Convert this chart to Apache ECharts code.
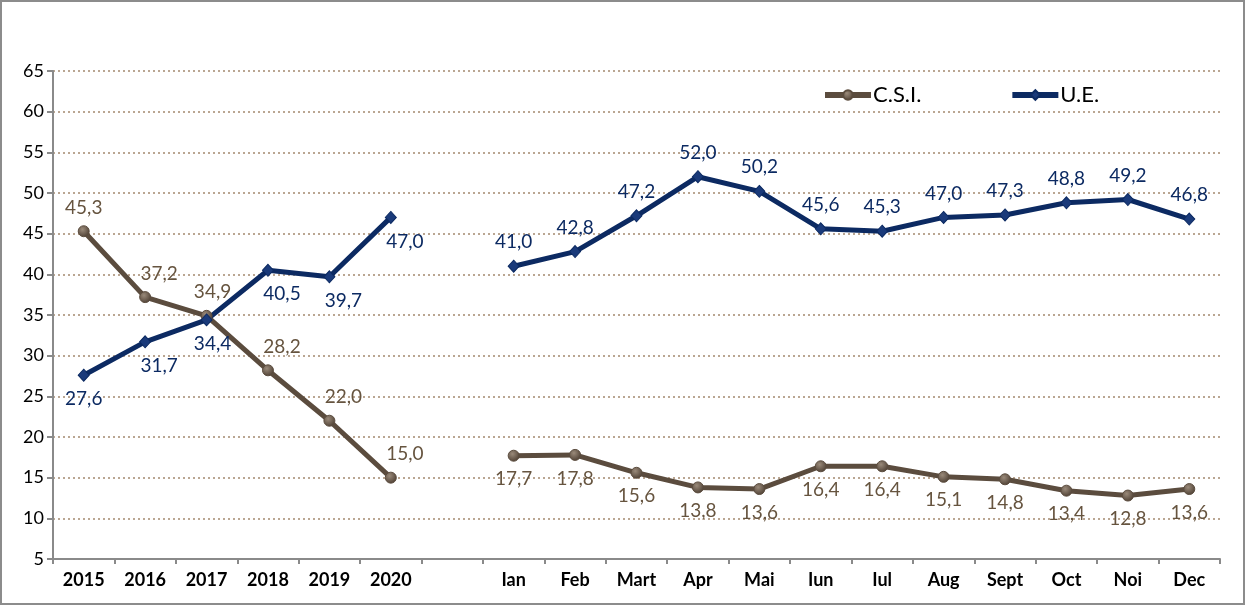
<!DOCTYPE html>
<html>
<head>
<meta charset="utf-8">
<script src="https://cdn.jsdelivr.net/npm/echarts@6/dist/echarts.min.js"></script>
<style>
    html, body { margin: 0; padding: 0; background: #fff; }
    #chart { width: 1245px; height: 605px; box-sizing: border-box; border: 2px solid #8c8c8c; }
</style>
</head>
<body>
<div id="chart"></div>
<script>
// categorii: ani, un spatiu gol, apoi lunile
var categories = ['2015', '2016', '2017', '2018', '2019', '2020', '',
    'Ian', 'Feb', 'Mart', 'Apr', 'Mai', 'Iun', 'Iul', 'Aug', 'Sept', 'Oct', 'Noi', 'Dec'];
var csi = [45.3, 37.2, 34.9, 28.2, 22.0, 15.0, null,
    17.7, 17.8, 15.6, 13.8, 13.6, 16.4, 16.4, 15.1, 14.8, 13.4, 12.8, 13.6];
var ue = [27.6, 31.7, 34.4, 40.5, 39.7, 47.0, null,
    41.0, 42.8, 47.2, 52.0, 50.2, 45.6, 45.3, 47.0, 47.3, 48.8, 49.2, 46.8];
var yTicks = [5, 10, 15, 20, 25, 30, 35, 40, 45, 50, 55, 60, 65];

var FONT = 'Lato';
var YEARS = 6;

function fmt(v) {
    return v.toFixed(1).replace('.', ',');
}

// ani: etichete deasupra la C.S.I., dedesubt la U.E.; lunile invers
function buildData(values, yearPos, monthPos) {
    return values.map(function (v, i) {
        if (v === null) return '-';
        var isYear = i < YEARS;
        var dx = isYear && i > 0 ? 14 : 0;
        if (isYear && (i === 2)) dx = 6;
        return {
            value: v,
            label: {
                position: isYear ? yearPos : monthPos,
                offset: [dx, 0]
            }
        };
    });
}

var chart = echarts.init(document.getElementById('chart'));
chart.setOption({
    animation: false,
    legend: {
        left: 815,
        top: 77,
        itemWidth: 46,
        itemHeight: 12,
        itemGap: 88,
        lineStyle: { width: 6 },
        textStyle: { fontFamily: FONT, fontSize: 22, color: '#000', padding: [0, 0, 0, -3] },
        data: ['C.S.I.', 'U.E.']
    },
    grid: {
        left: 51,
        right: 23,
        top: 69,
        bottom: 44,
        containLabel: false
    },
    xAxis: {
        type: 'category',
        data: categories,
        boundaryGap: true,
        axisLine: { lineStyle: { color: '#8a8a8a', width: 2 } },
        axisTick: { show: true, alignWithLabel: false, length: 5, lineStyle: { color: '#8a8a8a', width: 2 } },
        axisLabel: { fontFamily: FONT, fontSize: 18, fontWeight: 'bold', color: '#000', margin: 12, interval: 0 },
        splitLine: { show: false }
    },
    yAxis: {
        type: 'value',
        min: yTicks[0],
        max: yTicks[yTicks.length - 1],
        interval: 5,
        axisLine: { show: true, lineStyle: { color: '#8a8a8a', width: 2 } },
        axisTick: { show: true, length: 6, lineStyle: { color: '#8a8a8a', width: 2 } },
        axisLabel: { fontFamily: FONT, fontSize: 18, color: '#000', margin: 9 },
        splitLine: { lineStyle: { color: '#a4896f', type: [2, 3], width: 1.5 } }
    },
    series: [
        {
            name: 'C.S.I.',
            type: 'line',
            data: buildData(csi, 'top', 'bottom'),
            connectNulls: false,
            symbol: 'circle',
            symbolSize: 11,
            lineStyle: { color: '#5b4c3e', width: 5 },
            itemStyle: {
                color: {
                    type: 'radial', x: 0.4, y: 0.35, r: 0.7,
                    colorStops: [{ offset: 0, color: '#9a8a7a' }, { offset: 1, color: '#4a3c30' }]
                },
                borderColor: '#5b4c3e',
                borderWidth: 1
            },
            label: {
                show: true,
                fontFamily: FONT,
                fontSize: 19,
                color: '#66543f',
                distance: 8,
                formatter: function (p) { return fmt(p.value); }
            }
        },
        {
            name: 'U.E.',
            type: 'line',
            data: buildData(ue, 'bottom', 'top'),
            connectNulls: false,
            symbol: 'diamond',
            symbolSize: [11, 12],
            lineStyle: { color: '#0c2a62', width: 5 },
            itemStyle: { color: '#1a3a7a', borderColor: '#0c2a62', borderWidth: 1 },
            label: {
                show: true,
                fontFamily: FONT,
                fontSize: 19,
                color: '#0c2a62',
                distance: 8,
                formatter: function (p) { return fmt(p.value); }
            }
        }
    ]
});
</script>
</body>
</html>
